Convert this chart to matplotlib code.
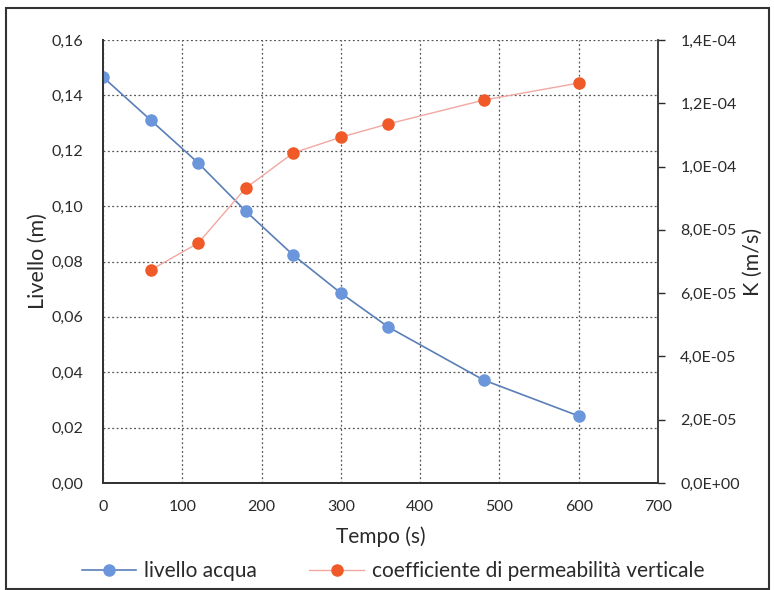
import matplotlib
matplotlib.use("Agg")
import matplotlib.pyplot as plt
from matplotlib.ticker import FuncFormatter, MultipleLocator
from matplotlib.patches import Rectangle

plt.rcParams["font.family"] = ["Lato", "DejaVu Sans"]

# ---- data ----
tempo = [0, 60, 120, 180, 240, 300, 360, 480, 600]
livello = [0.1466, 0.1311, 0.1156, 0.0982, 0.0823, 0.0686, 0.0563, 0.0372, 0.0242]

tempo_k = [60, 120, 180, 240, 300, 360, 480, 600]
k_vert = [6.73e-5, 7.58e-5, 9.32e-5, 1.043e-4, 1.093e-4, 1.135e-4, 1.210e-4, 1.264e-4]

BLUE_LINE = "#5a7fb8"
BLUE_MK = "#6b96dc"
ORANGE_LINE = "#f0a8a0"
ORANGE_MK = "#f05a28"
TXT = "#2a2a2a"

fig = plt.figure(figsize=(7.74, 5.9), dpi=100)
ax = fig.add_axes([103 / 774, 1 - 483 / 590, 555 / 774, 443 / 590])
ax2 = ax.twinx()

l1, = ax.plot(tempo, livello, color=BLUE_LINE, lw=1.2, marker="o", ms=8,
              mfc=BLUE_MK, mec=BLUE_MK, label="livello acqua", zorder=3)
l2, = ax2.plot(tempo_k, k_vert, color=ORANGE_LINE, lw=1.0, marker="o", ms=8,
               mfc=ORANGE_MK, mec=ORANGE_MK,
               label="coefficiente di permeabilità verticale", zorder=3)

ax.set_xlim(0, 700)
ax.set_ylim(0, 0.16)
ax2.set_ylim(0, 1.4e-4)
ax.xaxis.set_major_locator(MultipleLocator(100))
ax.yaxis.set_major_locator(MultipleLocator(0.02))
ax2.yaxis.set_major_locator(MultipleLocator(2e-5))

ax.yaxis.set_major_formatter(FuncFormatter(lambda v, p: f"{v:.2f}".replace(".", ",")))
ax2.yaxis.set_major_formatter(FuncFormatter(lambda v, p: f"{v:.1E}".replace(".", ",")))

ax.grid(True, color="#555555", ls=(0, (1.5, 2)), lw=0.9)
ax.set_axisbelow(True)

for side in ["left", "bottom", "right"]:
    ax2.spines[side].set_color("#333333")
    ax2.spines[side].set_linewidth(1.3)
ax2.spines["top"].set_visible(False)
ax.spines["top"].set_visible(False)
ax.spines["right"].set_visible(False)
for side in ["left", "bottom"]:
    ax.spines[side].set_color("#333333")
    ax.spines[side].set_linewidth(1.3)

ax.tick_params(axis="y", length=0, labelsize=11.5, colors=TXT, pad=14)
ax.tick_params(axis="x", length=0, labelsize=11.5, colors=TXT, pad=12)
ax2.tick_params(axis="y", length=5, width=1, labelsize=11.5, colors=TXT, pad=11)

ax.set_xlabel("Tempo (s)", fontsize=15, color=TXT, labelpad=9)
ax.set_ylabel("Livello (m)", fontsize=15.5, color=TXT, labelpad=3)
ax2.set_ylabel("K (m/s)", fontsize=15.5, color=TXT, labelpad=2)

fig.legend(handles=[l1, l2], loc="center", bbox_to_anchor=(0.508, 1 - 571 / 590),
           ncol=2, frameon=False, fontsize=15, handlelength=2.6,
           handletextpad=0.4, columnspacing=2.5, labelcolor=TXT,
           borderpad=0, borderaxespad=0)

fig.patches.append(Rectangle((6 / 774, 0.002), 763 / 774, 1 - 8 / 590 - 0.002,
                             transform=fig.transFigure, fill=False,
                             ec="#333333", lw=1.5))

fig.savefig("out.png", dpi=100)
